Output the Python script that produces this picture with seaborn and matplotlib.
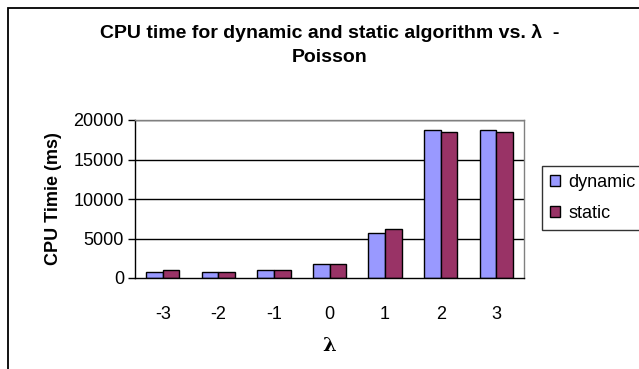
import matplotlib
matplotlib.use("Agg")
import matplotlib.pyplot as plt
import seaborn as sns
import pandas as pd
from matplotlib.patches import Rectangle

categories = ["-3", "-2", "-1", "0", "1", "2", "3"]
dynamic = [760, 710, 960, 1770, 5700, 18780, 18780]
static = [1010, 710, 960, 1770, 6200, 18520, 18520]
series_names = ["dynamic", "static"]
yticks = [0, 5000, 10000, 15000, 20000]

df = pd.DataFrame({
    "lam": categories * 2,
    "value": dynamic + static,
    "series": [series_names[0]] * len(categories) + [series_names[1]] * len(categories),
})

sns.set_style("white")
plt.rcParams["font.family"] = ["Liberation Sans", "DejaVu Sans"]
plt.rcParams["text.color"] = "black"
plt.rcParams["axes.labelcolor"] = "black"
plt.rcParams["xtick.color"] = "black"
plt.rcParams["ytick.color"] = "black"

W, H = 639, 369
fig = plt.figure(figsize=(W / 100, H / 100), dpi=100)
ax = fig.add_axes([135 / W, (H - 278) / H, (524 - 135) / W, (278 - 120) / H])

sns.barplot(data=df, x="lam", y="value", hue="series", order=categories,
            hue_order=series_names, palette=["#9999FF", "#993366"],
            width=0.6, gap=0, edgecolor="black", linewidth=1, saturation=1,
            ax=ax, legend=True)

ax.set_ylim(0, 20000)
ax.set_xlim(-0.5, len(categories) - 0.5)
ax.set_yticks(yticks)
ax.set_yticklabels([str(v) for v in yticks], fontsize=13)
ax.set_xticks(range(len(categories)))
ax.set_xticklabels(categories, fontsize=13)
ax.set_xticks([i + 0.5 for i in range(-1, len(categories))], minor=True)
ax.tick_params(axis="x", which="major", length=0, pad=20)
ax.tick_params(axis="x", which="minor", length=5, width=1, color="black", direction="out")
ax.tick_params(axis="y", length=5, width=1, color="black", direction="out", pad=3, left=True)
for y in yticks[1:]:
    ax.axhline(y, color="black", linewidth=1, zorder=0)
ax.set_axisbelow(True)
for s in ["top", "right"]:
    ax.spines[s].set_color("#808080")
    ax.spines[s].set_linewidth(1)
for s in ["left", "bottom"]:
    ax.spines[s].set_color("black")
    ax.spines[s].set_linewidth(1)

ax.set_ylabel("CPU Timie (ms)", fontsize=13, fontweight="bold", labelpad=8)
ax.set_xlabel("λ", fontsize=14, fontweight="bold", family=["DejaVu Serif"], labelpad=10)

handles, labels = ax.get_legend_handles_labels()
ax.legend(handles, labels, loc="upper left", bbox_to_anchor=(542 / W, (H - 166) / H),
          bbox_transform=fig.transFigure, frameon=True, fancybox=False,
          edgecolor="black", fontsize=13, handlelength=0.55, handleheight=0.55,
          handletextpad=0.45, borderpad=0.45, labelspacing=0.75, borderaxespad=0)
ax.get_legend().get_frame().set_linewidth(1)

fig.text(330 / W, 1 - 33 / H, "CPU time for dynamic and static algorithm vs. λ  -",
         ha="center", va="center", fontsize=14, fontweight="bold")
fig.text(330 / W, 1 - 58 / H, "Poisson", ha="center", va="center",
         fontsize=14, fontweight="bold")

fig.patches.append(Rectangle((8 / W, -0.1), 1.2, 1 - 8 / H + 0.1, transform=fig.transFigure,
                             fill=False, edgecolor="black", linewidth=1.3))

fig.savefig("out.png", dpi=100)
